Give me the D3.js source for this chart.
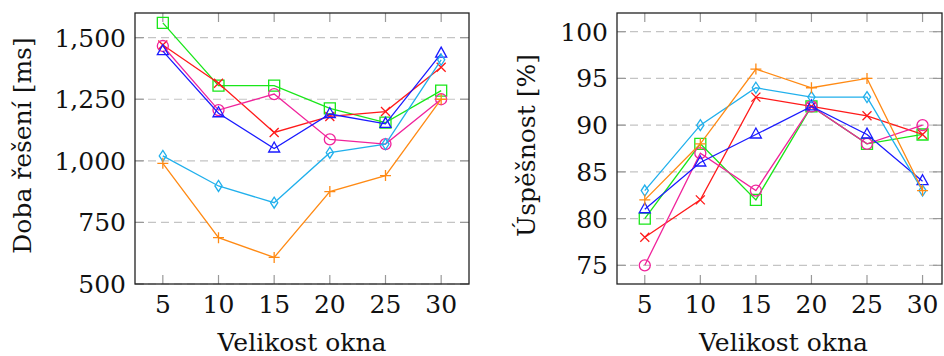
<!DOCTYPE html>
<html>
<head>
    <meta charset="utf-8">
    <title></title>
    <script src="https://d3js.org/d3.v7.min.js"></script>
    <style>
        body { margin: 0; background: #fff; }
    </style>
</head>
<body>
<svg id="chart"></svg>
<script>
    // data
    var windowSizes = [5, 10, 15, 20, 25, 30];

    var timeGreen   = [1560, 1305, 1305, 1213, 1155, 1285];
    var timeRed     = [1470, 1315, 1115, 1180, 1200, 1380];
    var timeMagenta = [1466, 1206, 1271, 1087, 1068, 1250];
    var timeBlue    = [1445, 1193, 1050, 1190, 1150, 1435];
    var timeCyan    = [1020, 898, 830, 1033, 1068, 1410];
    var timeOrange  = [990, 688, 608, 875, 940, 1250];

    var accGreen   = [80, 88, 82, 92, 88, 89];
    var accRed     = [78, 82, 93, 92, 91, 89];
    var accMagenta = [75, 87, 83, 92, 88, 90];
    var accBlue    = [81, 86, 89, 92, 89, 84];
    var accCyan    = [83, 90, 94, 93, 93, 83];
    var accOrange  = [82, 88, 96, 94, 95, 83];

    var timeTicks = [500, 750, 1000, 1250, 1500];
    var accTicks = [75, 80, 85, 90, 95, 100];

    var styles = [
        { color: "#19e619", mark: "square" },
        { color: "#ff1a1a", mark: "x" },
        { color: "#f0239b", mark: "circle" },
        { color: "#1a1aff", mark: "triangle" },
        { color: "#21b0ec", mark: "diamond" },
        { color: "#ff8a14", mark: "plus" }
    ];

    var font = "'DejaVu Serif', 'Liberation Serif', serif";
    var fontSize = 25;

    var width = 944, height = 356;
    var svg = d3.select("#chart").attr("width", width).attr("height", height);

    function markPath(type) {
        if (type == "square") return "M-5.5,-5.5H5.5V5.5H-5.5Z";
        if (type == "circle") return "M5.5,0A5.5,5.5 0 1,1 -5.5,0A5.5,5.5 0 1,1 5.5,0Z";
        if (type == "triangle") return "M0,-6.5L5.5,3.5H-5.5Z";
        if (type == "diamond") return "M0,-5.5L3.6,0L0,5.5L-3.6,0Z";
        if (type == "plus") return "M-5.5,0H5.5M0,-5.5V5.5";
        return "M-4.5,-4.5L4.5,4.5M-4.5,4.5L4.5,-4.5";
    }

    function drawPanel(opt) {
        var x = d3.scaleLinear().domain(opt.xDomain).range([opt.left, opt.right]);
        var y = d3.scaleLinear().domain(opt.yDomain).range([opt.bottom, opt.top]);
        var g = svg.append("g").attr("font-family", font);

        // grid
        g.selectAll(".grid").data(opt.yTicks).enter().append("line")
            .attr("x1", opt.left).attr("x2", opt.right)
            .attr("y1", function(d) { return y(d); }).attr("y2", function(d) { return y(d); })
            .attr("stroke", "#c4c4c4").attr("stroke-width", 1.2)
            .attr("stroke-dasharray", "8,5");

        // ticks inside the frame
        var tickLen = 9;
        windowSizes.forEach(function(v) {
            g.append("line").attr("x1", x(v)).attr("x2", x(v))
                .attr("y1", opt.bottom).attr("y2", opt.bottom - tickLen)
                .attr("stroke", "#999").attr("stroke-width", 1.2);
            g.append("line").attr("x1", x(v)).attr("x2", x(v))
                .attr("y1", opt.top).attr("y2", opt.top + tickLen)
                .attr("stroke", "#999").attr("stroke-width", 1.2);
        });
        opt.yTicks.forEach(function(v) {
            g.append("line").attr("x1", opt.left).attr("x2", opt.left + tickLen)
                .attr("y1", y(v)).attr("y2", y(v))
                .attr("stroke", "#999").attr("stroke-width", 1.2);
            g.append("line").attr("x1", opt.right).attr("x2", opt.right - tickLen)
                .attr("y1", y(v)).attr("y2", y(v))
                .attr("stroke", "#999").attr("stroke-width", 1.2);
        });

        // tick labels
        g.selectAll(".xl").data(windowSizes).enter().append("text")
            .attr("x", function(d) { return x(d); })
            .attr("y", opt.bottom + 29)
            .attr("text-anchor", "middle")
            .attr("font-size", fontSize)
            .attr("fill", "#111")
            .text(function(d) { return d; });
        g.selectAll(".yl").data(opt.yTicks).enter().append("text")
            .attr("x", opt.left - 9)
            .attr("y", function(d) { return y(d) + 9; })
            .attr("text-anchor", "end")
            .attr("font-size", fontSize)
            .attr("fill", "#111")
            .text(opt.yFormat);

        // axis titles
        g.append("text")
            .attr("x", (opt.left + opt.right) / 2 + opt.xTitleShift)
            .attr("y", opt.bottom + 67)
            .attr("text-anchor", "middle")
            .attr("font-size", fontSize)
            .attr("fill", "#111")
            .text("Velikost okna");
        g.append("text")
            .attr("transform", "translate(" + opt.yTitleX + "," + ((opt.top + opt.bottom) / 2 - 3) + ") rotate(-90)")
            .attr("text-anchor", "middle")
            .attr("font-size", fontSize)
            .attr("fill", "#111")
            .text(opt.yTitle);

        // series
        var line = d3.line()
            .x(function(d, i) { return x(windowSizes[i]); })
            .y(function(d) { return y(d); });

        opt.series.forEach(function(vals, k) {
            var st = styles[k];
            g.append("path").datum(vals)
                .attr("d", line)
                .attr("fill", "none")
                .attr("stroke", st.color)
                .attr("stroke-width", 1.3);
            g.selectAll(".m" + k).data(vals).enter().append("path")
                .attr("transform", function(d, i) { return "translate(" + x(windowSizes[i]) + "," + y(d) + ")"; })
                .attr("d", markPath(st.mark))
                .attr("fill", "none")
                .attr("stroke", st.color)
                .attr("stroke-width", 1.3);
        });

        // frame
        g.append("rect")
            .attr("x", opt.left).attr("y", opt.top)
            .attr("width", opt.right - opt.left).attr("height", opt.bottom - opt.top)
            .attr("fill", "none").attr("stroke", "#222").attr("stroke-width", 1.3);
    }

    drawPanel({
        left: 135, right: 469, top: 13, bottom: 284,
        xDomain: [2.5, 32.5], yDomain: [500, 1600],
        yTicks: timeTicks, yFormat: d3.format(","),
        yTitle: "Doba řešení [ms]", yTitleX: 31, xTitleShift: 0,
        series: [timeGreen, timeRed, timeMagenta, timeBlue, timeCyan, timeOrange]
    });

    drawPanel({
        left: 617, right: 942, top: 13, bottom: 284,
        xDomain: [2.5, 31.75], yDomain: [73, 102],
        yTicks: accTicks, yFormat: function(d) { return d; },
        yTitle: "Úspěšnost [%]", yTitleX: 535, xTitleShift: 4,
        series: [accGreen, accRed, accMagenta, accBlue, accCyan, accOrange]
    });
</script>
</body>
</html>
